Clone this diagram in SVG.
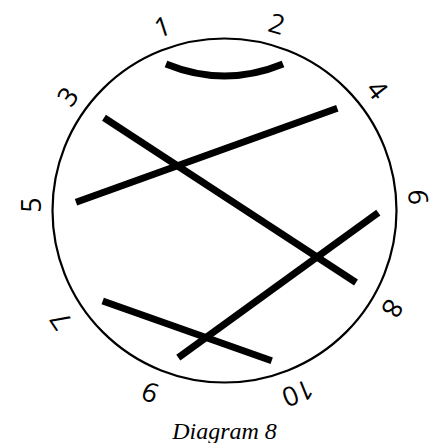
<svg xmlns="http://www.w3.org/2000/svg" width="440" height="443" viewBox="0 0 440 443">
<style>
.lbl{font-family:"Open Sans","DejaVu Sans",sans-serif;font-size:27px;fill:#000;text-anchor:middle;dominant-baseline:central}
.chord{stroke:#000;stroke-width:7;fill:none;stroke-linecap:butt}
.cap{font-family:"Liberation Serif","Times New Roman",serif;font-style:italic;font-size:24px;fill:#000;text-anchor:middle}
</style>
<rect width="440" height="443" fill="#fff"/>
<g id="circle"><circle cx="224.5" cy="210.5" r="172" fill="none" stroke="#000" stroke-width="2.2"/></g>
<g id="p1"><text class="lbl" transform="translate(162,26) rotate(-18)">1</text></g>
<g id="p2"><text class="lbl" transform="translate(277,23) rotate(16)">2</text></g>
<g id="p3"><text class="lbl" transform="translate(67,96) rotate(-54)">3</text></g>
<g id="p4"><text class="lbl" transform="translate(378,89) rotate(52)">4</text></g>
<g id="p5"><text class="lbl" transform="translate(30,205) rotate(-90)">5</text></g>
<g id="p6"><text class="lbl" transform="translate(419,197) rotate(88)">6</text></g>
<g id="p7"><text class="lbl" transform="translate(60,321) rotate(-124)">7</text></g>
<g id="p8"><text class="lbl" transform="translate(393,309) rotate(120)">8</text></g>
<g id="p9"><text class="lbl" transform="translate(150,393) rotate(-158)">9</text></g>
<g id="p10"><text class="lbl" transform="translate(298,394) rotate(158)">10</text></g>
<g id="connectors">
<path class="chord" d="M166,64 Q224.5,88 283,64"/>
<line class="chord" x1="104" y1="117.7" x2="356" y2="282.5"/>
<line class="chord" x1="76" y1="202.3" x2="337.3" y2="108.3"/>
<line class="chord" x1="378.3" y1="212.7" x2="178.3" y2="357.7"/>
<line class="chord" x1="102.7" y1="301" x2="271.7" y2="360.7"/>
</g>
<text class="cap" x="224.5" y="439">Diagram 8</text>
</svg>
